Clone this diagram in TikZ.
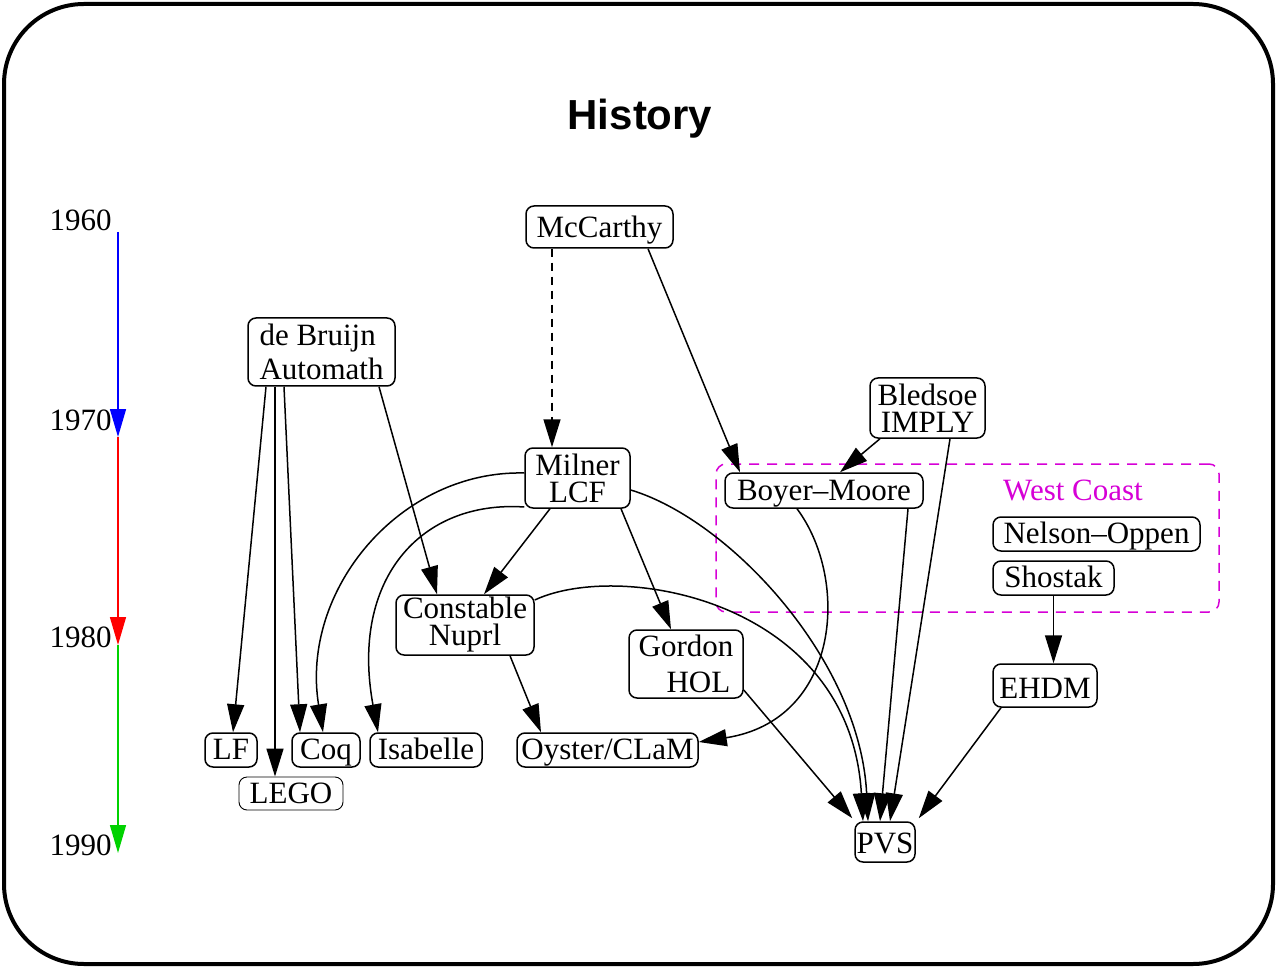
\documentclass[tikz,border=0pt]{standalone}
\usepackage{fontspec}
\setmainfont{Liberation Serif}
\newfontfamily\titlefont{Liberation Sans}
\usetikzlibrary{arrows.meta,calc}
\definecolor{wcmag}{RGB}{214,0,214}
\definecolor{tlgreen}{RGB}{0,210,0}
\begin{document}
\begin{tikzpicture}[x=0.5pt,y=-0.5pt,
  box/.style={draw,line width=0.75pt,rounded corners=4pt,inner sep=0pt,align=center,font=\fontsize{15.5}{13.5}\selectfont},
  one/.style={text height=#1,text depth=0pt},
  one/.default=9.5pt,
  edge/.style={line width=0.75pt,-{Triangle[length=14pt,width=8.5pt]}},
  tl/.style={line width=0.75pt,-{Triangle[length=14pt,width=8pt]}},
  year/.style={anchor=east,inner sep=0pt,font=\fontsize{15.5}{18}\selectfont}]
\useasboundingbox (0,0) rectangle (1277,967);
% frame
\draw[line width=2pt,rounded corners=40pt] (4,4) rectangle (1273,964);
\node[font=\titlefont\bfseries\fontsize{21}{24}\selectfont] (title) at (640,119) {History};
% timeline
\node[year] (y60) at (112,220) {1960};
\node[year] (y70) at (112,420) {1970};
\node[year] (y80) at (112,637) {1980};
\node[year] (y90) at (112,845) {1990};
\coordinate (t60) at (118,232);
\coordinate (t70) at (118,437);
\coordinate (t80) at (118,645);
\coordinate (t90) at (118,853);
\draw[tl,blue] (t60) -- (t70);
\draw[tl,red] (t70) -- (t80);
\draw[tl,tlgreen] (t80) -- (t90);
% west coast group
\node[draw=wcmag,line width=0.75pt,dash pattern=on 5pt off 4pt,rounded corners=5pt,minimum width=251.5pt,minimum height=74pt,inner sep=0pt] (westcoast) at (967.5,538) {};
\node[text=wcmag,font=\fontsize{15.5}{18}\selectfont] (wclabel) at (1073,490) {West Coast};
% nodes
\node[box,one=11pt,minimum width=73.5pt,minimum height=21pt] (mccarthy) at (599.5,227) {McCarthy};
\node[box,minimum width=73.5pt,minimum height=34pt,align=left,font=\fontsize{15.5}{17}\selectfont] (debruijn) at (321.5,352) {de Bruijn\\Automath};
\node[box,minimum width=57.5pt,minimum height=30pt] (bledsoe) at (927.5,408) {Bledsoe\\IMPLY};
\node[box,minimum width=52.5pt,minimum height=30pt] (milner) at (577.5,478) {Milner\\LCF};
\node[box,one,minimum width=99pt,minimum height=17.5pt] (boyer) at (824,490.5) {Boyer--Moore};
\node[box,one,minimum width=103.5pt,minimum height=17pt] (nelson) at (1096.5,534) {Nelson--Oppen};
\node[box,one,minimum width=60.5pt,minimum height=17pt] (shostak) at (1053.5,578) {Shostak};
\node[box,minimum width=69pt,minimum height=30pt] (constable) at (465,625) {Constable\\Nuprl};
\node[box,minimum width=57pt,minimum height=34pt,font=\fontsize{15.5}{18}\selectfont] (gordon) at (686,664) {Gordon\\\hspace*{0.8em}HOL};
\node[box,one=13pt,minimum width=52pt,minimum height=21.5pt] (ehdm) at (1045,685.5) {EHDM};
\node[box,one,minimum width=26pt,minimum height=17pt] (lf) at (231,750) {LF};
\node[box,one,minimum width=34pt,minimum height=17pt] (coq) at (326,750) {Coq};
\node[box,one,minimum width=56pt,minimum height=17pt] (isabelle) at (426,750) {Isabelle};
\node[box,one,line width=0.45pt,minimum width=52pt,minimum height=16.5pt] (lego) at (291,793.5) {LEGO};
\node[box,one=9pt,minimum width=90.5pt,minimum height=17pt] (oyster) at (607.5,750) {Oyster/CLaM};
\node[box,one=11pt,minimum width=30pt,minimum height=20pt] (pvs) at (885,842) {PVS};
% edges
\draw[edge,dash pattern=on 4pt off 3pt] ($(mccarthy.south)+(-47.5,0)$) -- ($(milner.north)+(-25.5,0)$);
\draw[edge] ($(mccarthy.south)+(48.5,0)$) -- ($(boyer.north)+(-84,0)$);
\draw[edge] ($(debruijn.south)+(-55.5,0)$) -- ($(lf.north)+(2,0)$);
\draw[edge] ($(debruijn.south)+(-46.5,0)$) -- ($(lego.north)+(-16,0)$);
\draw[edge] ($(debruijn.south)+(-37.5,0)$) -- ($(coq.north)+(-26,0)$);
\draw[edge] ($(debruijn.south)+(57.5,0)$) -- ($(constable.north)+(-28,0)$);
\draw[edge] ($(bledsoe.south)+(-47.5,0)$) -- ($(boyer.north)+(16,0)$);
\draw[edge] ($(bledsoe.south)+(22.5,0)$) -- ($(pvs.north)+(5,0)$);
\draw[edge] ($(milner.south)+(-27.5,0)$) -- ($(constable.north)+(19,0)$);
\draw[edge] ($(milner.south)+(43.5,0)$) -- ($(gordon.north)+(-15,0)$);
\draw[edge] ($(milner.west)+(0,-5)$) .. controls (400,470) and (300,590) .. ($(coq.north)+(-3,0)$);
\draw[edge] ($(milner.west)+(0,29)$) .. controls (420,500) and (350,580) .. ($(isabelle.north)+(-48,0)$);
\draw[edge] ($(milner.east)+(0,12)$) .. controls (730,520) and (860,660) .. ($(pvs.north)+(-17,0)$);
\draw[edge] ($(constable.east)+(0,-25)$) .. controls (620,560) and (850,600) .. ($(pvs.north)+(-22,0)$);
\draw[edge] ($(constable.south)+(45,0)$) -- ($(oyster.north)+(-66.5,0)$);
\draw[edge] ($(boyer.south)+(-27,0)$) .. controls (850,580) and (840,720) .. ($(oyster.east)+(0,-8)$);
\draw[edge] ($(boyer.south)+(84,0)$) -- ($(pvs.north)+(-5,0)$);
\draw[edge] ($(gordon.east)+(0,26)$) -- ($(pvs.north west)+(-2,-3)$);
\draw[edge] (shostak.south) -- ($(ehdm.north)+(8.5,0)$);
\draw[edge] ($(ehdm.south)+(-44,0)$) -- ($(pvs.north east)+(3,-3)$);
\end{tikzpicture}
\end{document}
